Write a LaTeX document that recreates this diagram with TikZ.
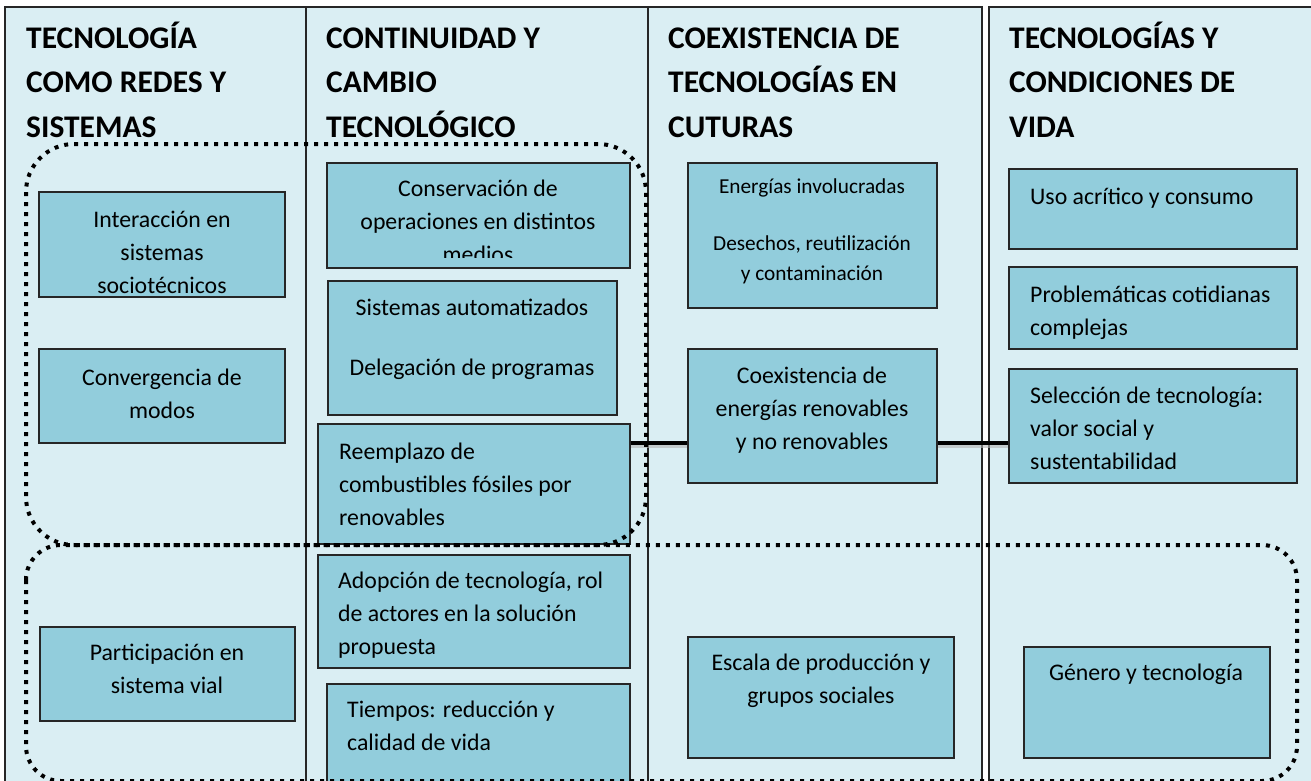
\documentclass[tikz,border=0pt]{standalone}
\usepackage{fontspec}
\setmainfont{Carlito}
\usetikzlibrary{positioning}

\definecolor{paleaqua}{HTML}{DAEEF3}
\definecolor{aqua}{HTML}{92CDDC}
\definecolor{lineclr}{HTML}{262626}

\tikzset{
  colpanel/.style={fill=paleaqua, draw=lineclr, line width=1.2pt},
  heading/.style={anchor=base west, align=left, inner sep=0pt,
    font=\fontsize{31.5}{44.5}\selectfont\bfseries},
  topic/.style={fill=aqua, draw=lineclr, line width=1.3pt, inner sep=0pt},
  ttext/.style={inner sep=0pt, font=\fontsize{23.8}{33.3}\selectfont},
  group/.style={draw=black, line width=4pt, dash pattern=on 4pt off 6pt, rounded corners=#1},
  link/.style={draw=black, line width=4.5pt}
}

\begin{document}
\begin{tikzpicture}[x=1pt,y=-1pt]
\useasboundingbox (0,0) rectangle (1311,780);

% Draw the four columns
\foreach \l/\r in {5/306, 306/648, 648/982, 989/1330}{
  \draw[colpanel] (\l,7) rectangle (\r,800);
}

% Column headings (base = last line)
\node[heading] (headA) at (26,137) {TECNOLOGÍA\\COMO REDES Y\\SISTEMAS};
\node[heading] (headB) at (326,137) {CONTINUIDAD Y\\CAMBIO\\TECNOLÓGICO};
\node[heading] (headC) at (668,137) {COEXISTENCIA DE\\TECNOLOGÍAS EN\\CUTURAS};
\node[heading] (headD) at (1009,137) {TECNOLOGÍAS Y\\CONDICIONES DE\\VIDA};

% Boxes of the first column
\node[topic, minimum width=246pt, minimum height=105pt] (interac) at (162,244.5) {};
\node[ttext, anchor=base, align=center] (interacT) at (162,293.6) {Interacción en\\sistemas\\sociotécnicos};
\node[topic, minimum width=246pt, minimum height=94pt] (converg) at (162,396) {};
\node[ttext, anchor=base, align=center] (convergT) at (162,418.3) {Convergencia de\\modos};
\node[topic, minimum width=255pt, minimum height=94pt] (particip) at (167.5,674) {};
\node[ttext, anchor=base, align=center] (participT) at (167,693.3) {Participación en\\sistema vial};

% Boxes of the second column
\node[topic, minimum width=303pt, minimum height=105pt] (conserv) at (478.5,215.5) {};
\begin{scope}
  \clip (conserv.north west) rectangle ([yshift=11pt]conserv.south east);
  \node[ttext, anchor=base, align=center] (conservT) at (478,262.6) {Conservación de\\operaciones en distintos\\medios};
\end{scope}
\node[topic, minimum width=289pt, minimum height=134pt] (sistauto) at (472.5,348) {};
\node[ttext, anchor=base, align=center] (sistautoT) at (472,375) {Sistemas automatizados\\[26.7pt]Delegación de programas};
\node[topic, minimum width=312pt, minimum height=120pt] (reempl) at (474,484) {};
\node[ttext, anchor=base west, align=left] (reemplT) at (339,525.6) {Reemplazo de\\combustibles fósiles por\\renovables};
\node[topic, minimum width=312pt, minimum height=113pt] (adopc) at (474,611.5) {};
\node[ttext, anchor=base west, align=left] (adopcT) at (338,654.6) {Adopción de tecnología, rol\\de actores en la solución\\propuesta};
\node[topic, minimum width=303pt, minimum height=116pt] (tiempos) at (478.5,742) {};
\node[ttext, anchor=base west, align=left] (tiemposT) at (347,750.3) {Tiempos: reducción y\\calidad de vida};

% Boxes of the third column
\node[topic, minimum width=249pt, minimum height=145pt] (energ) at (812.5,235.5) {};
\node[ttext, anchor=base, align=center, font=\fontsize{21.3}{30}\selectfont] (energT) at (812,280) {Energías involucradas\\[27pt]Desechos, reutilización\\y contaminación};
\node[topic, minimum width=249pt, minimum height=134pt] (coex) at (812.5,416) {};
\node[ttext, anchor=base, align=center] (coexT) at (812,449.6) {Coexistencia de\\energías renovables\\y no renovables};
\node[topic, minimum width=266pt, minimum height=121pt] (escala) at (821,697.5) {};
\node[ttext, anchor=base, align=center] (escalaT) at (821,703.3) {Escala de producción y\\grupos sociales};

% Boxes of the fourth column
\node[topic, minimum width=288pt, minimum height=80pt] (uso) at (1153,209) {};
\node[ttext, anchor=base west, align=left] (usoT) at (1030,204) {Uso acrítico y consumo};
\node[topic, minimum width=288pt, minimum height=82pt] (probl) at (1153,308) {};
\node[ttext, anchor=base west, align=left] (problT) at (1030,335.3) {Problemáticas cotidianas\\complejas};
\node[topic, minimum width=288pt, minimum height=114pt] (selecc) at (1153,426) {};
\node[ttext, anchor=base west, align=left] (seleccT) at (1030,469.6) {Selección de tecnología:\\valor social y\\sustentabilidad};
\node[topic, minimum width=246pt, minimum height=111pt] (genero) at (1147,702.5) {};
\node[ttext, anchor=base, align=center] (generoT) at (1146,680) {Género y tecnología};

% Draw the links between the energy boxes
\coordinate (linky) at (0,443);
\draw[link, draw=black!30, opacity=.6, transform canvas={yshift=-3pt}] (reempl.east |- linky) -- (coex.west |- linky);
\draw[link, draw=black!30, opacity=.6, transform canvas={yshift=-3pt}] (coex.east |- linky) -- (selecc.west |- linky);
\draw[link] (reempl.east |- linky) -- (coex.west |- linky);
\draw[link] (coex.east |- linky) -- (selecc.west |- linky);

% Draw the dotted groups
\draw[group=48pt] (26,144) rectangle (646,545);
\draw[group=35pt] (26,545) rectangle (1297,781);
\end{tikzpicture}
\end{document}
